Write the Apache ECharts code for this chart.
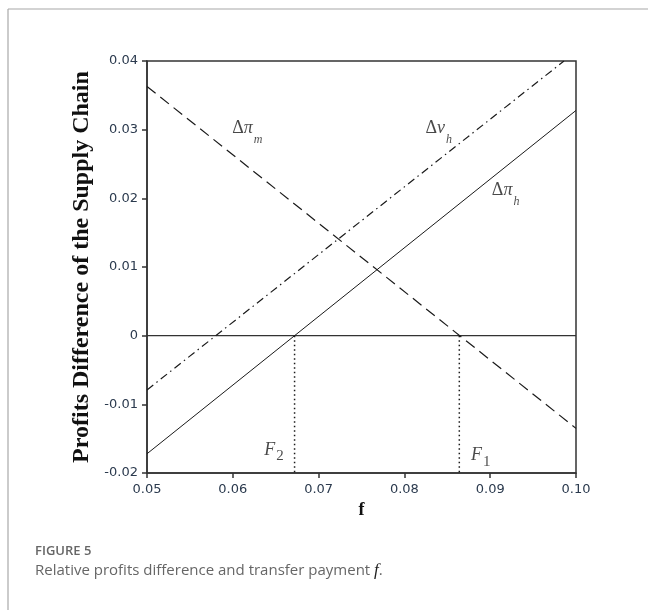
<!DOCTYPE html>
<html>
<head>
<meta charset="utf-8">
<script src="https://cdn.jsdelivr.net/npm/echarts@6.0.0/dist/echarts.min.js"></script>
<style>
html, body { margin: 0; padding: 0; background: #fff; }
#main { width: 648px; height: 610px; }
</style>
</head>
<body>
<div id="main"></div>
<script>
// end points of the three straight curves (x = f)
var dPiM = [[0.05, 0.0363], [0.10, -0.0135]];   // dashed
var dPiH = [[0.05, -0.0172], [0.10, 0.0328]];   // solid
var dVH  = [[0.05, -0.0079], [0.0986, 0.0400]]; // dash-dot (runs out of the top)
var zeroLine = [[0.05, 0], [0.10, 0]];
var F2 = 0.0672;
var F1 = 0.0864;
var yBottom = -0.02;

// curve names, anchored in data coordinates
var curveLabels = [
    { value: [0.0617, 0.0300], text: '{up|Δ}{it|π}{sub|m}' },
    { value: [0.0840, 0.0300], text: '{up|Δ}{it|v}{sub|h}' },
    { value: [0.0918, 0.0210], text: '{up|Δ}{it|π}{sub|h}' },
    { value: [0.0648, -0.0168], text: '{F|F}{subn|2}' },
    { value: [0.0889, -0.0176], text: '{F|F}{subn|1}' }
];

var ink = '#1a1a1a';
var serif = '"Liberation Serif", "DejaVu Serif", serif';

var myChart = echarts.init(document.getElementById('main'), null, { renderer: 'canvas' });

var fmt = v => Math.abs(v) < 1e-9 ? '0' : v.toFixed(2);

var option = {
    animation: false,
    backgroundColor: '#fff',
    grid: {
        left: 147,
        right: 72,
        top: 61,
        bottom: 137,
        show: true,
        borderColor: '#333',
        borderWidth: 1.5,
        backgroundColor: 'transparent'
    },
    xAxis: {
        type: 'value',
        min: 0.05,
        max: 0.10,
        interval: 0.01,
        name: 'f',
        nameLocation: 'middle',
        nameGap: 24,
        nameTextStyle: { fontFamily: serif, fontWeight: 'bold', fontSize: 18, color: '#111' },
        axisLine: { show: true, onZero: false, lineStyle: { color: '#333', width: 1.5 } },
        axisTick: { show: true, length: 5, lineStyle: { color: '#333', width: 1.5 } },
        axisLabel: { margin: 10, formatter: fmt, fontFamily: '"DejaVu Sans", sans-serif', fontSize: 13, color: '#2b3a4e' },
        splitLine: { show: false }
    },
    yAxis: {
        type: 'value',
        min: -0.02,
        max: 0.04,
        interval: 0.01,
        name: 'Profits Difference of the Supply Chain',
        nameLocation: 'middle',
        nameGap: 50,
        nameTextStyle: { fontFamily: serif, fontWeight: 'bold', fontSize: 24, color: '#111' },
        axisLine: { show: true, onZero: false, lineStyle: { color: '#333', width: 1.5 } },
        axisTick: { show: true, length: 5, lineStyle: { color: '#333', width: 1.5 } },
        axisLabel: { margin: 9, formatter: fmt, fontFamily: '"DejaVu Sans", sans-serif', fontSize: 13, color: '#2b3a4e' },
        splitLine: { show: false }
    },
    series: [
        {
            name: 'zero',
            type: 'line',
            data: zeroLine,
            showSymbol: false,
            lineStyle: { color: '#333', width: 1.2 }
        },
        {
            name: 'dPiM',
            type: 'line',
            data: dPiM,
            showSymbol: false,
            lineStyle: { color: ink, width: 1.2, type: [11, 6] }
        },
        {
            name: 'dPiH',
            type: 'line',
            data: dPiH,
            showSymbol: false,
            lineStyle: { color: ink, width: 1 }
        },
        {
            name: 'dVH',
            type: 'line',
            data: dVH,
            showSymbol: false,
            lineStyle: { color: ink, width: 1.2, type: [8, 4, 1.5, 4] }
        },
        {
            name: 'F2',
            type: 'line',
            data: [[F2, 0], [F2, yBottom]],
            showSymbol: false,
            lineStyle: { color: ink, width: 1.5, type: [1.5, 3] }
        },
        {
            name: 'F1',
            type: 'line',
            data: [[F1, 0], [F1, yBottom]],
            showSymbol: false,
            lineStyle: { color: ink, width: 1.5, type: [1.5, 3] }
        },
        {
            name: 'labels',
            type: 'scatter',
            symbolSize: 0,
            data: curveLabels,
            label: {
                show: true,
                position: 'inside',
                formatter: p => p.data.text,
                rich: {
                    up:   { fontFamily: serif, fontSize: 18, lineHeight: 20, verticalAlign: 'top', color: ink },
                    it:   { fontFamily: serif, fontStyle: 'italic', fontSize: 18, lineHeight: 20, verticalAlign: 'top', color: ink },
                    F:    { fontFamily: serif, fontStyle: 'italic', fontSize: 18, lineHeight: 20, verticalAlign: 'top', color: ink },
                    sub:  { fontFamily: serif, fontStyle: 'italic', fontSize: 12, lineHeight: 10, verticalAlign: 'top', padding: [14, 0, 0, 1], color: ink },
                    subn: { fontFamily: serif, fontSize: 15, lineHeight: 12, verticalAlign: 'top', padding: [8, 0, 0, 1], color: ink }
                }
            }
        }
    ],
    graphic: [
        // figure frame (top and left rule)
        { type: 'line', shape: { x1: 8, y1: 9, x2: 648, y2: 9 }, style: { stroke: '#a8a8a8', lineWidth: 1.2 } },
        { type: 'line', shape: { x1: 8, y1: 9, x2: 8, y2: 610 }, style: { stroke: '#a8a8a8', lineWidth: 1.2 } },
        {
            type: 'text', left: 35, top: 545,
            style: { text: 'FIGURE 5', fontFamily: '"Open Sans", sans-serif', fontSize: 13, fontWeight: 600, fill: '#666' }
        },
        {
            type: 'text', left: 35, top: 562,
            style: {
                text: 'Relative profits difference and transfer payment {f|f}.',
                fontFamily: '"Open Sans", sans-serif', fontSize: 15, fill: '#666',
                rich: { f: { fontFamily: serif, fontStyle: 'italic', fontSize: 17, fill: '#222' } }
            }
        }
    ]
};

myChart.setOption(option);
window.addEventListener('resize', myChart.resize);
</script>
</body>
</html>
